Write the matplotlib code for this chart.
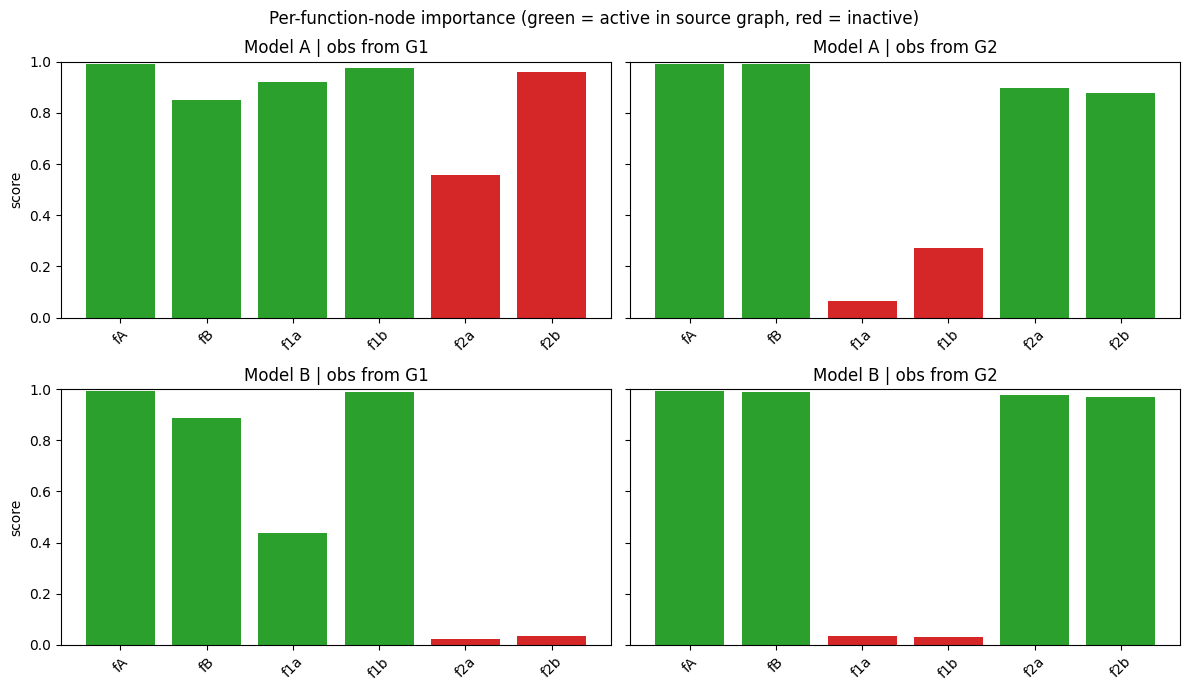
import matplotlib
matplotlib.use("Agg")
import matplotlib.pyplot as plt

nodes = ["fA", "fB", "f1a", "f1b", "f2a", "f2b"]
titles = ["Model A | obs from G1", "Model A | obs from G2",
          "Model B | obs from G1", "Model B | obs from G2"]
scores_a_g1 = [0.992, 0.852, 0.922, 0.977, 0.559, 0.961]
scores_a_g2 = [0.992, 0.992, 0.066, 0.270, 0.898, 0.879]
scores_b_g1 = [0.993, 0.888, 0.439, 0.990, 0.024, 0.035]
scores_b_g2 = [0.993, 0.990, 0.035, 0.031, 0.978, 0.970]
active_g1 = [True, True, True, True, False, False]
active_g2 = [True, True, False, False, True, True]

panels = [(scores_a_g1, active_g1), (scores_a_g2, active_g2),
          (scores_b_g1, active_g1), (scores_b_g2, active_g2)]

fig, axes = plt.subplots(2, 2, figsize=(11.89, 6.91), dpi=100, sharey=True)
for ax, title, (vals, act) in zip(axes.flat, titles, panels):
    colors = ["tab:green" if a else "tab:red" for a in act]
    ax.bar(nodes, vals, color=colors)
    ax.set_title(title)
    ax.set_ylim(0, 1)
    ax.tick_params(axis="x", rotation=45)
for ax in axes[:, 0]:
    ax.set_ylabel("score")
fig.suptitle("Per-function-node importance (green = active in source graph, red = inactive)",
             y=0.986)
fig.subplots_adjust(left=0.0513, right=0.9927, top=0.9107, bottom=0.0666,
                    wspace=0.0351, hspace=0.280)
fig.savefig("out.png", dpi=100)
